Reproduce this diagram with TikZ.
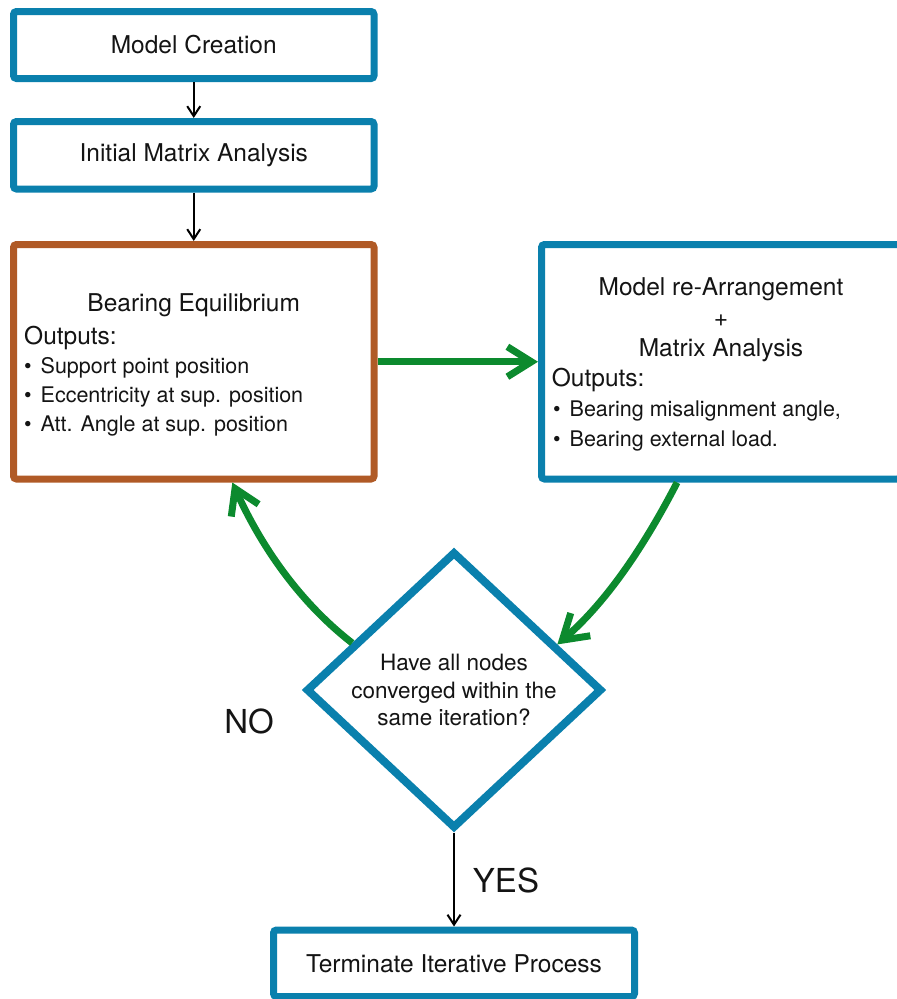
\documentclass[tikz,border=0pt]{standalone}
\usepackage{fontspec}
\setmainfont{TeX Gyre Heros}
\usetikzlibrary{arrows.meta,shapes.geometric,calc}
\definecolor{flowblue}{RGB}{10,128,173}
\definecolor{flowbrown}{RGB}{176,90,38}
\definecolor{flowgreen}{RGB}{12,138,46}
\definecolor{flowtext}{RGB}{20,20,20}
\newcommand\flowtitle{\fontsize{24.5}{29}\selectfont}
\newcommand\flowbullet{\fontsize{21.5}{26}\selectfont}
\newcommand\flowdiam{\fontsize{22.5}{27.5}\selectfont}
\newcommand\flowbig{\fontsize{33}{38}\selectfont}
\newcommand\blt{\makebox[16.5pt][l]{\textbullet}}
\begin{document}
\begin{tikzpicture}[x=1pt,y=-1pt,
  box/.style={draw=flowblue, line width=7pt, rounded corners=3pt, fill=white,
    inner sep=0pt, minimum width=360.5pt, minimum height=67pt,
    font=\flowtitle, text=flowtext},
  bigbox/.style={box, minimum height=234.5pt},
  decision/.style={draw=flowblue, line width=8pt, shape=diamond, fill=white,
    inner sep=0pt, minimum width=296pt, minimum height=268pt,
    align=center, font=\flowdiam, text=flowtext},
  txt/.style={inner sep=0pt, text=flowtext},
  blackarrow/.style={draw=black, line width=2pt,
    -{Straight Barb[length=10pt,width=13pt]}},
  greenarrow/.style={draw=flowgreen, line width=7pt,
    -{Straight Barb[length=24pt,width=30pt]}}]
\useasboundingbox (0,0) rectangle (897,999);

% boxes of the flow
\node[box] (mc) at (193.75,45) {Model Creation};
\node[box, minimum height=67.5pt] (ima) at (193.75,155.25) {Initial Matrix Analysis};
\node[bigbox, draw=flowbrown] (be) at (193.75,361.75) {};
\node[bigbox, minimum width=359pt] (mr) at (721,361.75) {};
\node[decision] (d) at (454,690) {Have all nodes\\converged within the\\same iteration?};
\node[box, minimum width=361pt, minimum height=66.5pt] (ti) at (454,963.25) {Terminate Iterative Process};

% bearing equilibrium contents
\node[txt, anchor=base, font=\flowtitle] (beT) at (193.75,311.7) {Bearing Equilibrium};
\node[txt, anchor=base west, font=\flowtitle] (beO) at (24,344) {Outputs:};
\node[txt, anchor=base west, font=\flowbullet] (beB1) at (24,373) {\blt Support point position};
\node[txt, anchor=base west, font=\flowbullet] (beB2) at (24,402.5) {\blt Eccentricity at sup. position};
\node[txt, anchor=base west, font=\flowbullet] (beB3) at (24,431.5) {\blt Att. Angle at sup. position};

% model re-arrangement contents
\node[txt, anchor=base, font=\flowtitle] (mrT1) at (721,295) {Model re-Arrangement};
\node[txt, anchor=base, font=\flowtitle] (mrT2) at (721,326) {+};
\node[txt, anchor=base, font=\flowtitle] (mrT3) at (721,356.7) {Matrix Analysis};
\node[txt, anchor=base west, font=\flowtitle] (mrO) at (551.7,386.7) {Outputs:};
\node[txt, anchor=base west, font=\flowbullet] (mrB1) at (553,416.7) {\blt Bearing misalignment angle,};
\node[txt, anchor=base west, font=\flowbullet] (mrB2) at (553,446) {\blt Bearing external load.};

% branch labels
\node[txt, font=\flowbig] (no) at (249,721) {NO};
\node[txt, font=\flowbig] (yes) at (506,880) {YES};

% connectors
\draw[blackarrow] (mc) -- (ima);
\draw[blackarrow] (ima) -- (be);
\draw[blackarrow] (d) -- (ti);
\draw[greenarrow] (be) -- (mr);
\draw[greenarrow] ($(d.west)!0.33!(d.north)$)
  .. controls +(-54,-42) and +(28,62) .. ($(be.south)!0.21!(be.south east)$);
\draw[greenarrow] ($(mr.south west)!0.76!(mr.south)$)
  .. controls +(-31,60) and +(51,-44) .. ($(d.north)!0.68!(d.east)$);
\end{tikzpicture}
\end{document}
